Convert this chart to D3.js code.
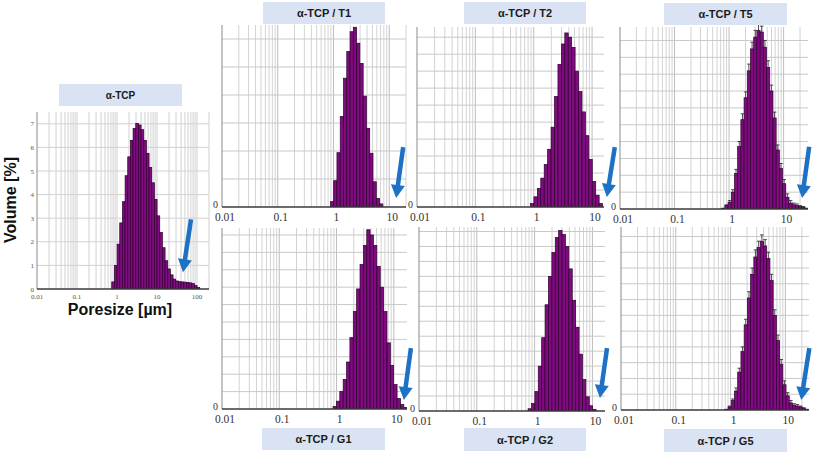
<!DOCTYPE html>
<html>
<head>
<meta charset="utf-8">
<script src="https://cdn.jsdelivr.net/npm/d3@7"></script>
<style>
  body { margin: 0; background: #fff; }
  svg { display: block; font-family: "Liberation Sans", Arial, sans-serif; }
</style>
</head>
<body>
<div id="chart"></div>
<script>
// panel names
const titles = ['α-TCP', 'α-TCP / T1', 'α-TCP / T2', 'α-TCP / T5', 'α-TCP / G1', 'α-TCP / G2', 'α-TCP / G5'];

// size bins: lower edge of first bin (µm) and bins per decade
const binStart = [0.74, 0.88, 0.88, 0.73, 0.87, 0.77, 0.785];
const binsPerDecade = [15, 17, 17, 17, 17, 17, 17];

// volume per bin (the small panels are read in grid-line units)
const volTCP = [0.3, 1.0, 1.9, 2.8, 3.7, 4.8, 5.6, 6.3, 6.8, 7.02, 6.95, 6.75, 6.3, 5.75, 5.15, 4.5, 3.8,
  3.1, 2.4, 1.75, 1.2, 0.85, 0.6, 0.42, 0.34, 0.31, 0.3, 0.29, 0.28, 0.26, 0.23, 0.15, 0.06];
const volT1 = [0.19, 0.94, 1.94, 3.23, 4.6, 5.55, 6.26, 6.42, 5.85, 5.13, 3.96, 2.81, 1.92, 0.9, 0.31, 0.11];
const volT2 = [0.2, 0.6, 1.1, 1.7, 2.5, 3.4, 4.7, 6.5, 8.4, 9.6, 10.25, 10.0, 9.4, 8.0, 6.8, 5.6, 4.2, 2.8, 1.5, 0.7, 0.2];
const volT5 = [0.05, 0.2, 0.4, 1.0, 2.1, 3.7, 5.3, 6.6, 8.2, 9.5, 10.2, 10.6, 10.5, 9.6, 8.4, 7.0, 5.4, 3.5, 2.4,
  1.5, 0.7, 0.35, 0.25, 0.2, 0.15, 0.1, 0.05];
const volG1 = [0.15, 0.45, 1.0, 1.7, 2.7, 4.1, 5.6, 6.9, 8.3, 9.4, 10.3, 10.0, 9.4, 8.2, 7.0, 5.6, 3.8, 2.5, 1.4, 0.6, 0.25, 0.08];
const volG2 = [0.15, 0.5, 1.3, 3.0, 4.9, 7.1, 9.0, 10.6, 11.6, 12.07, 11.8, 11.0, 9.5, 7.4, 5.6, 3.8, 2.1, 0.95, 0.35, 0.1];
const volG5 = [0.05, 0.2, 0.6, 1.2, 2.4, 3.7, 5.4, 7.1, 8.6, 9.7, 10.3, 10.7, 10.4, 9.6, 8.2, 6.0, 4.4, 2.9, 1.6,
  0.9, 0.45, 0.3, 0.25, 0.2, 0.1, 0.05];

// error bars (only T5 and G5 have them)
const errT5 = [0, 0.05, 0.1, 0.15, 0.25, 0.3, 0.35, 0.35, 0.4, 0.4, 0.4, 0.35, 0.35, 0.4, 0.4, 0.35, 0.35, 0.3, 0.3,
  0.25, 0.2, 0.15, 0.1, 0.1, 0.05, 0.05, 0];
const errG5 = [0, 0.05, 0.1, 0.2, 0.25, 0.3, 0.35, 0.4, 0.4, 0.45, 0.4, 0.4, 0.4, 0.4, 0.4, 0.35, 0.35, 0.3, 0.25,
  0.2, 0.15, 0.1, 0.1, 0.05, 0.05, 0];

const volumes = [volTCP, volT1, volT2, volT5, volG1, volG2, volG5];
const errors = [null, null, null, errT5, null, null, errG5];

// axis ends
const xMax = [200, 20, 16, 28, 17, 16.5, 27];
const yMax = [7.5, 6.5, 10.6, 10.8, 10.4, 12.3, 11.6];
const xTickLabels = ['0.01', '0.1', '1', '10', '100'];
const yTickLabelsMain = [0, 1, 2, 3, 4, 5, 6, 7];

// blue arrows: tail and tip as [µm, volume]
const arrowTail = [[71, 2.95], [17.8, 2.14], [24.5, 3.53], [29.4, 3.69], [19.9, 3.5], [17.9, 4.2], [27.4, 3.92]];
const arrowTip = [[44.7, 0.71], [13.3, 0.32], [17.9, 0.59], [21.8, 0.65], [15.0, 0.52], [13.5, 0.87], [19.5, 0.63]];

// layout: plot box [left, top, right, bottom] and title box [x0, y0, x1, y1]
const plotBox = [
  [37, 112, 209, 289],
  [222, 25, 406, 207],
  [417, 27, 604, 207],
  [620, 27, 808, 209],
  [222, 228, 407, 409],
  [419, 227, 605, 411],
  [621, 227, 809, 410],
];
const titleBox = [
  [59, 84, 182, 106],
  [263, 2, 385, 24],
  [464, 2, 586, 24],
  [664, 3, 787, 25],
  [262, 428, 385, 450],
  [464, 428, 586, 451],
  [664, 429, 787, 452],
];

const width = 813;
const height = 454;
const barColor = '#800a80';
const arrowColor = '#1e72c6';

const svg = d3.select('#chart')
  .append('svg')
  .attr('width', width)
  .attr('height', height);

const drawArrow = (g, x1, y1, x2, y2) => {
  const dx = x2 - x1, dy = y2 - y1, len = Math.hypot(dx, dy);
  const ux = dx / len, uy = dy / len;
  const hl = 13, hw = 7;
  const bx = x2 - ux * hl, by = y2 - uy * hl;
  g.append('line')
    .attr('x1', x1).attr('y1', y1)
    .attr('x2', bx + ux).attr('y2', by + uy)
    .attr('stroke', arrowColor)
    .attr('stroke-width', 4.5);
  g.append('path')
    .attr('d', `M${x2},${y2}L${bx - uy * hw},${by + ux * hw}L${bx + uy * hw},${by - ux * hw}Z`)
    .attr('fill', arrowColor);
};

titles.forEach((title, p) => {
  const [l, t, r, b] = plotBox[p];
  const main = p === 0;
  const x = d3.scaleLog().domain([0.01, xMax[p]]).range([l, r]);
  const y = d3.scaleLinear().domain([0, yMax[p]]).range([b, t]);
  const g = svg.append('g').attr('class', 'panel');

  // vertical grid: every 1..9 of each decade
  const vGrid = [];
  for (let d = 0.01; d < xMax[p]; d *= 10) {
    for (let k = 1; k <= 9; k++) {
      const v = +(k * d).toPrecision(3);
      if (v > 0.01 && v <= xMax[p]) vGrid.push({ v, major: k === 1 });
    }
  }
  g.append('g')
    .selectAll('line')
    .data(vGrid)
    .enter()
    .append('line')
    .attr('x1', (d) => x(d.v)).attr('x2', (d) => x(d.v))
    .attr('y1', t).attr('y2', b)
    .attr('stroke', (d) => main ? '#e2e2e2' : (d.major ? '#bdbdbd' : '#d3d3d3'))
    .attr('stroke-width', main ? 1.6 : 1);

  // horizontal grid
  g.append('g')
    .selectAll('line')
    .data(d3.range(1, Math.floor(yMax[p]) + 1))
    .enter()
    .append('line')
    .attr('x1', l).attr('x2', r)
    .attr('y1', (d) => y(d)).attr('y2', (d) => y(d))
    .attr('stroke', main ? '#d2d2d2' : '#c9c9c9')
    .attr('stroke-width', 1);

  // bars
  const bins = volumes[p].map((v, i) => ({
    x0: binStart[p] * Math.pow(10, i / binsPerDecade[p]),
    x1: binStart[p] * Math.pow(10, (i + 1) / binsPerDecade[p]),
    v,
    e: errors[p] ? errors[p][i] : 0,
  }));
  const clipId = `clip${p}`;
  svg.append('clipPath').attr('id', clipId)
    .append('rect').attr('x', l).attr('y', t - 10).attr('width', r - l).attr('height', b - t + 10);
  const bars = g.append('g').attr('clip-path', `url(#${clipId})`);
  bars.selectAll('rect')
    .data(bins)
    .enter()
    .append('rect')
    .attr('x', (d) => x(d.x0))
    .attr('width', (d) => x(d.x1) - x(d.x0))
    .attr('y', (d) => y(d.v))
    .attr('height', (d) => y(0) - y(d.v))
    .attr('fill', barColor)
    .attr('stroke', '#2a002a')
    .attr('stroke-width', 0.7);

  if (errors[p]) {
    const eb = bars.selectAll('g.err')
      .data(bins.filter((d) => d.e > 0))
      .enter()
      .append('g')
      .attr('class', 'err');
    const cx = (d) => (x(d.x0) + x(d.x1)) / 2;
    eb.append('line')
      .attr('x1', cx).attr('x2', cx)
      .attr('y1', (d) => y(d.v)).attr('y2', (d) => y(d.v + d.e))
      .attr('stroke', '#222').attr('stroke-width', 0.8);
    eb.append('line')
      .attr('x1', (d) => cx(d) - 1.8).attr('x2', (d) => cx(d) + 1.8)
      .attr('y1', (d) => y(d.v + d.e)).attr('y2', (d) => y(d.v + d.e))
      .attr('stroke', '#222').attr('stroke-width', 0.8);
  }

  // axes lines
  g.append('line')
    .attr('x1', l).attr('x2', l).attr('y1', t).attr('y2', b)
    .attr('stroke', '#8a8a8a').attr('stroke-width', 1);
  g.append('line')
    .attr('x1', l).attr('x2', r).attr('y1', b).attr('y2', b)
    .attr('stroke', '#3a3a3a').attr('stroke-width', 1.5);

  // x tick labels
  const xl = xTickLabels.filter((s) => +s <= xMax[p]);
  g.append('g')
    .selectAll('text')
    .data(xl)
    .enter()
    .append('text')
    .attr('x', (d) => x(+d) + (main ? 0 : 3))
    .attr('y', b + (main ? 10 : 14))
    .attr('text-anchor', 'middle')
    .attr('font-family', '"Liberation Serif", "Times New Roman", serif')
    .attr('font-size', main ? 7 : 11.5)
    .attr('fill', main ? '#555' : '#333')
    .text((d) => d);

  // y tick labels
  const yl = main ? yTickLabelsMain : [0];
  g.append('g')
    .selectAll('text')
    .data(yl)
    .enter()
    .append('text')
    .attr('x', l - (main ? 3 : 4))
    .attr('y', (d) => y(d) + (main ? 2.5 : 1))
    .attr('text-anchor', 'end')
    .attr('font-family', '"Liberation Serif", "Times New Roman", serif')
    .attr('font-size', main ? 7 : 10)
    .attr('fill', main ? '#555' : '#333')
    .text((d) => d);

  // title box
  const [bx0, by0, bx1, by1] = titleBox[p];
  g.append('rect')
    .attr('x', bx0).attr('y', by0)
    .attr('width', bx1 - bx0).attr('height', by1 - by0)
    .attr('fill', '#dae3f3');
  g.append('text')
    .attr('x', (bx0 + bx1) / 2)
    .attr('y', (by0 + by1) / 2 + 4)
    .attr('text-anchor', 'middle')
    .attr('font-weight', 'bold')
    .attr('font-size', main ? 10 : 11)
    .attr('fill', '#1a1a1a')
    .text(title);

  // arrow
  drawArrow(svg, x(arrowTail[p][0]), y(arrowTail[p][1]), x(arrowTip[p][0]), y(arrowTip[p][1]));
});

// axis titles
svg.append('text')
  .attr('transform', 'translate(16,200) rotate(-90)')
  .attr('text-anchor', 'middle')
  .attr('font-weight', 'bold')
  .attr('font-size', 16)
  .attr('fill', '#111')
  .text('Volume [%]');

svg.append('text')
  .attr('x', 120)
  .attr('y', 315)
  .attr('text-anchor', 'middle')
  .attr('font-weight', 'bold')
  .attr('font-size', 16)
  .attr('fill', '#111')
  .text('Poresize [µm]');
</script>
</body>
</html>
